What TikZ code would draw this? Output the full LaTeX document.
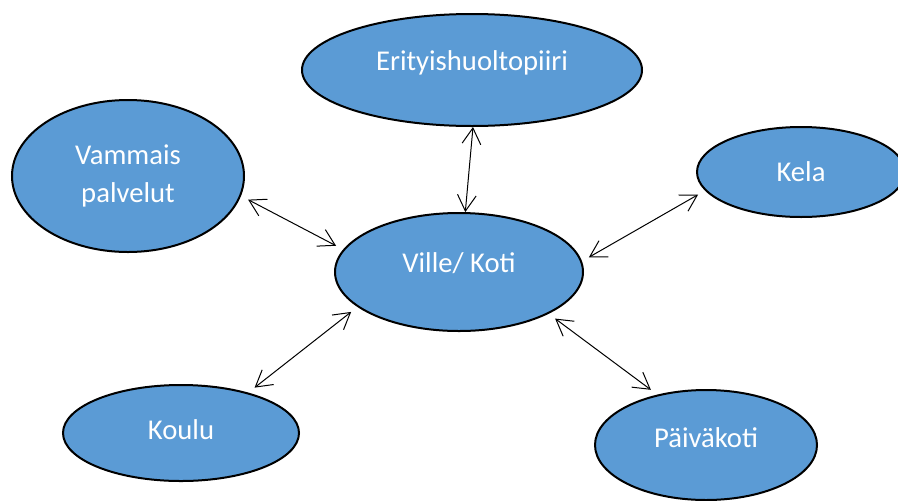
\documentclass[tikz,border=0pt]{standalone}
\usepackage{fontspec}
\setmainfont{Carlito}
\usepackage{tikz}
\usetikzlibrary{arrows.meta,shapes.geometric}
\definecolor{ovalblue}{RGB}{91,155,213}
\tikzset{x=0.75pt, y=-0.75pt,
  bubble/.style={ellipse, draw=black, line width=1.5pt, fill=ovalblue, text=white,
    inner sep=0pt, font=\fontsize{21.5pt}{29pt}\selectfont},
  oval/.style={bubble, text height=10pt, text depth=10pt},
  link/.style={{Straight Barb[length=12pt,width=14pt]}-{Straight Barb[length=12pt,width=14pt]}, line width=0.75pt},
  gap/.style={shorten <=6pt, shorten >=6pt}}

\begin{document}
\begin{tikzpicture}

           \useasboundingbox (0,0) rectangle (898,500);

           \node (V) [oval, minimum width=186pt, minimum height=88.5pt] at (459,272) {Ville/ Koti};
           \node (E) [oval, minimum width=255pt, minimum height=84pt] at (472,70) {Erityishuoltopiiri};
           \node (VP) [bubble, align=center, minimum width=174pt, minimum height=114pt] at (128,176) {Vammais\\palvelut};
           \node (K) [oval, minimum width=156pt, minimum height=67.5pt] at (801,172) {\raisebox{-6.75pt}{Kela}};
           \node (Ko) [oval, minimum width=177pt, minimum height=72pt] at (181,433) {\raisebox{-4.5pt}{Koulu}};
           \node (P) [oval, minimum width=166.5pt, minimum height=82.5pt] at (706,445) {\raisebox{-1.5pt}{Päiväkoti}};

           \draw[link] (E.271) to (V.84);
           \draw[link, gap] (VP.350) to (V.169);
           \draw[link, gap] (K.191) to (V.5);
           \draw[link, gap] (Ko.31) to (V.199);
           \draw[link, gap] (P.134) to (V.335);

         \end{tikzpicture}
\end{document}
